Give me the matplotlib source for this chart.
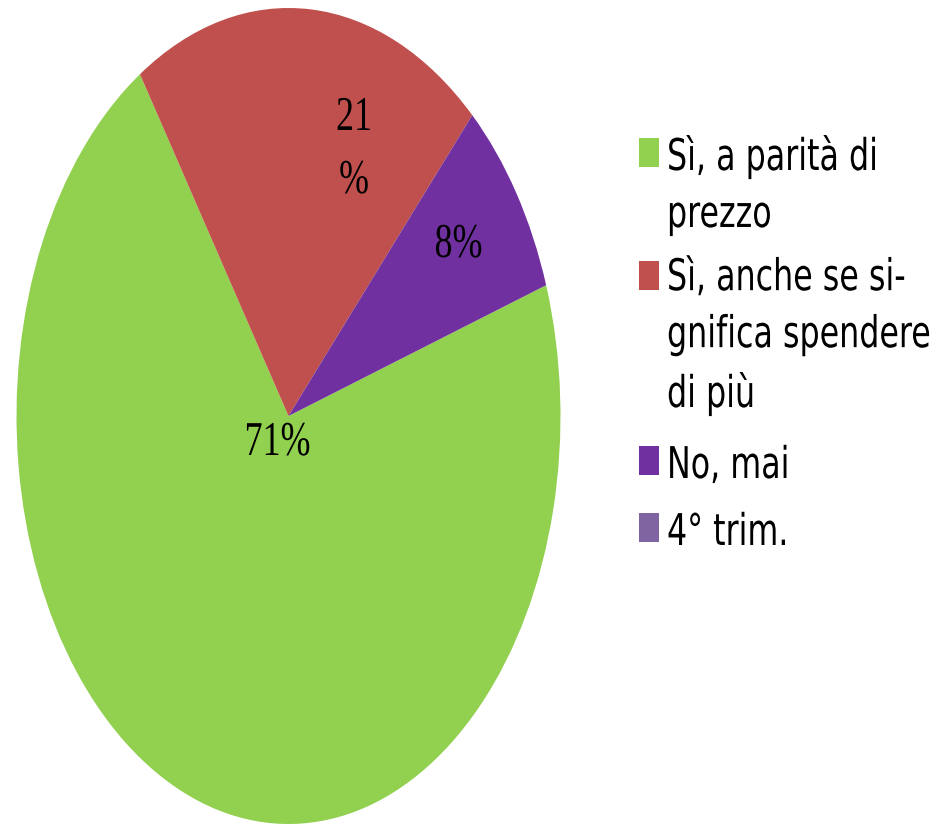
import matplotlib
matplotlib.use('Agg')
import matplotlib.pyplot as plt
import matplotlib.patheffects as pe
from matplotlib.patches import Rectangle
from matplotlib.transforms import Affine2D, Bbox
from matplotlib.font_manager import FontProperties

# data
labels = ['Sì, a parità di\nprezzo', 'Sì, anche se si-\ngnifica spendere\ndi più', 'No, mai', '4° trim.']
values = [71, 21, 8, 0]
pct_text = ['71%', '21\n%', '8%']
colors = ['#92D050', '#C0504D', '#7030A0', '#8064A2']


class HSqueeze(pe.AbstractPathEffect):
    # the original picture is squeezed horizontally, so squeeze the glyphs around the text anchor
    def __init__(self, text, sx):
        super().__init__()
        self.text = text
        self.sx = sx

    def draw_path(self, renderer, gc, tpath, affine, rgbFace=None):
        x0 = self.text.get_transform().transform(self.text.get_unitless_position())[0]
        squeeze = Affine2D().translate(-x0, 0).scale(self.sx, 1).translate(x0, 0)
        renderer.draw_path(gc, tpath, affine + squeeze, rgbFace)


def squeeze(t, sx):
    t.set_path_effects([HSqueeze(t, sx)])
    orig = t.get_window_extent

    def extent(renderer=None, dpi=None):
        bb = orig(renderer, dpi)
        x0 = t.get_transform().transform(t.get_unitless_position())[0]
        return Bbox([[x0 + (bb.x0 - x0) * sx, bb.y0], [x0 + (bb.x1 - x0) * sx, bb.y1]])
    t.get_window_extent = extent


def spacing_for(step_px, family, size):
    # linespacing giving a baseline-to-baseline step of step_px
    # (matplotlib steps by descent + linespacing * ascent of "lp")
    _, h, d = renderer.get_text_width_height_descent('lp', FontProperties(family=family, size=size), ismath=False)
    return (step_px - d) / (h - d)


W, H = 934, 824
fig = plt.figure(figsize=(W / 100, H / 100), dpi=100)
renderer = fig.canvas.get_renderer()

# elliptical pie: axes box spans the ellipse
ax = fig.add_axes([16.5 / W, 0.0, 544 / W, 816 / H])
ax.pie(values, colors=colors, startangle=18.7, counterclock=False, radius=1,
       wedgeprops=dict(linewidth=0))
ax.set_aspect('auto')
ax.set_xlim(-1, 1)
ax.set_ylim(-1, 1)
ax.axis('off')

# percent labels: centre x and first-line baseline, in pixels
pct_size = 35
pct_step = 63
pct_pos = [(277.5, 455), (354, 130), (458.5, 257)]
ls = spacing_for(pct_step, 'Liberation Serif', pct_size)
for s, (px, py) in zip(pct_text, pct_pos):
    last = py + pct_step * s.count('\n')
    x = (px - 288.5) / 272
    y = (416 - last) / 408
    t = ax.text(x, y, s, ha='center', va='baseline', fontsize=pct_size,
                family='Liberation Serif', linespacing=ls)
    squeeze(t, 0.74)

# legend drawn by hand so the box sits next to the first line of each entry
leg_size = 31.5
leg_step = 57
baselines = [170, 293, 478, 545]
ls = spacing_for(leg_step, 'DejaVu Sans', leg_size)
for lab, col, yb in zip(labels, colors, baselines):
    fig.patches.append(Rectangle((639 / W, 1 - (yb - 3) / H), 20 / W, 29 / H,
                                 transform=fig.transFigure, facecolor=col,
                                 edgecolor='none'))
    last = yb + leg_step * lab.count('\n')
    t = fig.text(667 / W, 1 - last / H, lab, ha='left', va='baseline',
                 fontsize=leg_size, family='DejaVu Sans', linespacing=ls)
    squeeze(t, 0.725)

fig.savefig('out.png', dpi=100)
